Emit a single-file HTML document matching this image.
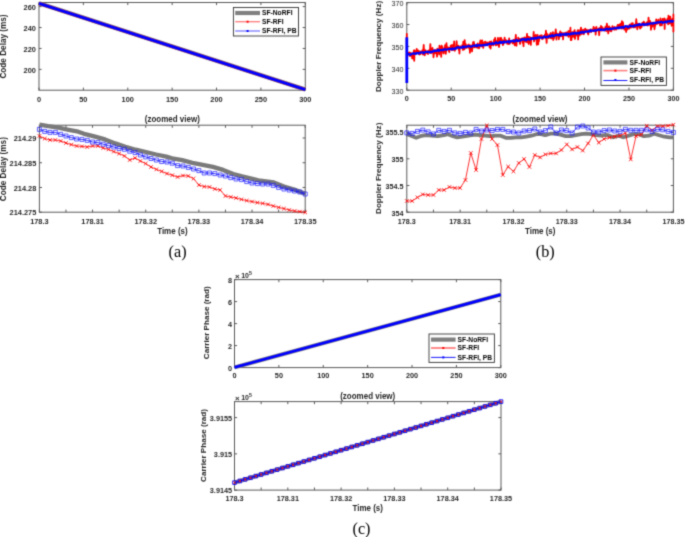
<!DOCTYPE html>
<html><head><meta charset="utf-8"><style>
html,body{margin:0;padding:0;background:#fff;}
svg{display:block;}
</style></head><body>
<svg width="685" height="537" viewBox="0 0 685 537">
<defs><filter id="bl" filterUnits="userSpaceOnUse" x="0" y="0" width="685" height="537" color-interpolation-filters="sRGB"><feConvolveMatrix order="3" kernelMatrix="0.0256 0.1088 0.0256 0.1088 0.4624 0.1088 0.0256 0.1088 0.0256" edgeMode="duplicate"/></filter></defs>
<g filter="url(#bl)">
<rect width="685" height="537" fill="#fff"/>
<rect x="39" y="2.5" width="266.3" height="87.7" fill="none" stroke="#5a5a5a" stroke-width="1"/>
<path d="M39 90.2v-2.6M39 2.5v2.6M83.38 90.2v-2.6M83.38 2.5v2.6M127.77 90.2v-2.6M127.77 2.5v2.6M172.15 90.2v-2.6M172.15 2.5v2.6M216.53 90.2v-2.6M216.53 2.5v2.6M260.92 90.2v-2.6M260.92 2.5v2.6M305.3 90.2v-2.6M305.3 2.5v2.6" stroke="#5a5a5a" stroke-width="1" fill="none"/>
<text font-size="7.4" text-anchor="middle" font-weight="bold" fill="#262626" font-family='"Liberation Sans", sans-serif' transform="translate(39 101.8) scale(1 1.08)">0</text>
<text font-size="7.4" text-anchor="middle" font-weight="bold" fill="#262626" font-family='"Liberation Sans", sans-serif' transform="translate(83.38 101.8) scale(1 1.08)">50</text>
<text font-size="7.4" text-anchor="middle" font-weight="bold" fill="#262626" font-family='"Liberation Sans", sans-serif' transform="translate(127.77 101.8) scale(1 1.08)">100</text>
<text font-size="7.4" text-anchor="middle" font-weight="bold" fill="#262626" font-family='"Liberation Sans", sans-serif' transform="translate(172.15 101.8) scale(1 1.08)">150</text>
<text font-size="7.4" text-anchor="middle" font-weight="bold" fill="#262626" font-family='"Liberation Sans", sans-serif' transform="translate(216.53 101.8) scale(1 1.08)">200</text>
<text font-size="7.4" text-anchor="middle" font-weight="bold" fill="#262626" font-family='"Liberation Sans", sans-serif' transform="translate(260.92 101.8) scale(1 1.08)">250</text>
<text font-size="7.4" text-anchor="middle" font-weight="bold" fill="#262626" font-family='"Liberation Sans", sans-serif' transform="translate(305.3 101.8) scale(1 1.08)">300</text>
<path d="M39 6.6h2.6M305.3 6.6h-2.6M39 27.53h2.6M305.3 27.53h-2.6M39 48.46h2.6M305.3 48.46h-2.6M39 69.39h2.6M305.3 69.39h-2.6" stroke="#5a5a5a" stroke-width="1" fill="none"/>
<text font-size="7.4" text-anchor="end" font-weight="bold" fill="#262626" font-family='"Liberation Sans", sans-serif' transform="translate(35.9 9.9) scale(1 1.08)">260</text>
<text font-size="7.4" text-anchor="end" font-weight="bold" fill="#262626" font-family='"Liberation Sans", sans-serif' transform="translate(35.9 30.83) scale(1 1.08)">240</text>
<text font-size="7.4" text-anchor="end" font-weight="bold" fill="#262626" font-family='"Liberation Sans", sans-serif' transform="translate(35.9 51.76) scale(1 1.08)">220</text>
<text font-size="7.4" text-anchor="end" font-weight="bold" fill="#262626" font-family='"Liberation Sans", sans-serif' transform="translate(35.9 72.69) scale(1 1.08)">200</text>
<text font-size="8.2" text-anchor="middle" font-weight="bold" fill="#262626" font-family='"Liberation Sans", sans-serif' transform="translate(6.3 46.5) rotate(-90) scale(1 1.08)">Code Delay (ms)</text>
<polyline points="39,3.3 305.3,89.6" fill="none" stroke="#808080" stroke-width="4.2" stroke-linejoin="round"/>
<polyline points="39,3.3 305.3,89.6" fill="none" stroke="#d04040" stroke-width="3.4" stroke-linejoin="round"/>
<polyline points="39,3.3 305.3,89.6" fill="none" stroke="#0000ff" stroke-width="2.8" stroke-linejoin="round"/>
<rect x="233.4" y="7.5" width="65.1" height="28.5" fill="#fff" stroke="#333" stroke-width="0.9"/>
<path d="M235.2 13H260" stroke="#808080" stroke-width="4.2"/>
<path d="M235.2 21.7H260" stroke="#ff7a7a" stroke-width="1.3"/>
<path d="M235.2 31H260" stroke="#7a7aff" stroke-width="1.3"/>
<rect x="246.6" y="20.7" width="2" height="2" fill="#ff0000"/>
<rect x="246.6" y="30" width="2" height="2" fill="#0000ff"/>
<text font-size="6.7" text-anchor="start" font-weight="bold" fill="#000" font-family='"Liberation Sans", sans-serif' transform="translate(262 15.3) scale(1 1.08)">SF-NoRFI</text>
<text font-size="6.7" text-anchor="start" font-weight="bold" fill="#000" font-family='"Liberation Sans", sans-serif' transform="translate(262 24) scale(1 1.08)">SF-RFI</text>
<text font-size="6.7" text-anchor="start" font-weight="bold" fill="#000" font-family='"Liberation Sans", sans-serif' transform="translate(262 33.3) scale(1 1.08)">SF-RFI, PB</text>
<rect x="39.4" y="125.2" width="265.8" height="87" fill="none" stroke="#5a5a5a" stroke-width="1"/>
<path d="M39.4 212.2v-2.6M39.4 125.2v2.6M65.98 212.2v-2.6M65.98 125.2v2.6M92.56 212.2v-2.6M92.56 125.2v2.6M119.14 212.2v-2.6M119.14 125.2v2.6M145.72 212.2v-2.6M145.72 125.2v2.6M172.3 212.2v-2.6M172.3 125.2v2.6M198.88 212.2v-2.6M198.88 125.2v2.6M225.46 212.2v-2.6M225.46 125.2v2.6M252.04 212.2v-2.6M252.04 125.2v2.6M278.62 212.2v-2.6M278.62 125.2v2.6M305.2 212.2v-2.6M305.2 125.2v2.6" stroke="#5a5a5a" stroke-width="1" fill="none"/>
<text font-size="7.4" text-anchor="middle" font-weight="bold" fill="#262626" font-family='"Liberation Sans", sans-serif' transform="translate(39.4 223.8) scale(1 1.08)">178.3</text>
<text font-size="7.4" text-anchor="middle" font-weight="bold" fill="#262626" font-family='"Liberation Sans", sans-serif' transform="translate(92.56 223.8) scale(1 1.08)">178.31</text>
<text font-size="7.4" text-anchor="middle" font-weight="bold" fill="#262626" font-family='"Liberation Sans", sans-serif' transform="translate(145.72 223.8) scale(1 1.08)">178.32</text>
<text font-size="7.4" text-anchor="middle" font-weight="bold" fill="#262626" font-family='"Liberation Sans", sans-serif' transform="translate(198.88 223.8) scale(1 1.08)">178.33</text>
<text font-size="7.4" text-anchor="middle" font-weight="bold" fill="#262626" font-family='"Liberation Sans", sans-serif' transform="translate(252.04 223.8) scale(1 1.08)">178.34</text>
<text font-size="7.4" text-anchor="middle" font-weight="bold" fill="#262626" font-family='"Liberation Sans", sans-serif' transform="translate(305.2 223.8) scale(1 1.08)">178.35</text>
<path d="M39.4 138h2.6M305.2 138h-2.6M39.4 162.73h2.6M305.2 162.73h-2.6M39.4 187.46h2.6M305.2 187.46h-2.6M39.4 212.19h2.6M305.2 212.19h-2.6" stroke="#5a5a5a" stroke-width="1" fill="none"/>
<text font-size="7.4" text-anchor="end" font-weight="bold" fill="#262626" font-family='"Liberation Sans", sans-serif' transform="translate(36.3 141.3) scale(1 1.08)">214.29</text>
<text font-size="7.4" text-anchor="end" font-weight="bold" fill="#262626" font-family='"Liberation Sans", sans-serif' transform="translate(36.3 166.03) scale(1 1.08)">214.285</text>
<text font-size="7.4" text-anchor="end" font-weight="bold" fill="#262626" font-family='"Liberation Sans", sans-serif' transform="translate(36.3 190.76) scale(1 1.08)">214.28</text>
<text font-size="7.4" text-anchor="end" font-weight="bold" fill="#262626" font-family='"Liberation Sans", sans-serif' transform="translate(36.3 215.49) scale(1 1.08)">214.275</text>
<text font-size="8.2" text-anchor="middle" font-weight="bold" fill="#262626" font-family='"Liberation Sans", sans-serif' transform="translate(5.7 169.2) rotate(-90) scale(1 1.08)">Code Delay (ms)</text>
<text font-size="8" text-anchor="middle" font-weight="bold" fill="#262626" font-family='"Liberation Sans", sans-serif' transform="translate(172.3 122.2) scale(1 1.1)">(zoomed view)</text>
<text font-size="8" text-anchor="middle" font-weight="bold" fill="#262626" font-family='"Liberation Sans", sans-serif' transform="translate(172.4 233.6) scale(1 1.12)">Time (s)</text>
<text font-size="16.2" text-anchor="middle" font-weight="normal" fill="#000" font-family='"Liberation Serif", serif' transform="translate(177.6 257.4)">(a)</text>
<clipPath id="ca"><rect x="36.4" y="122.2" width="271.8" height="92.99999999999999"/></clipPath>
<g>
<polyline points="39.4,124.6 48.2,126.2 58.4,127.7 68.7,129.8 76.8,131.3 84,133.8 94.2,136.4 105,139.4 115.2,143.4 125.4,146.7 135.7,149.7 145.9,152 156.1,154.5 166.3,156.6 172,158.3 182.2,160.2 192.4,162.8 202.7,164.8 212.9,166.9 223.1,169.9 233.3,174 242,176.4 258.4,180.3 273.8,182.4 284,186.5 294.2,189.5 305.2,193.8" fill="none" stroke="#7a7a7a" stroke-width="4.3" stroke-linejoin="round"/>
<polyline points="39.4,136 44.72,138.6 50.03,140 55.35,140 60.66,141 65.98,143 71.3,144.6 76.61,146 81.93,146.4 87.24,147 92.56,146 97.88,146 103.19,148 108.51,149.4 113.82,151.6 119.14,153.6 124.46,156 129.77,160 135.09,158 140.4,161 145.72,163.6 151.04,167 156.35,169.4 161.67,171.4 166.98,173.6 172.3,175.2 177.62,177 182.93,175.6 188.25,176 193.56,178.6 198.88,185 204.2,186.6 209.51,187 214.83,189 220.14,190 225.46,196 230.78,197 236.09,198 241.41,199.4 246.72,200.6 252.04,201.6 257.36,202.6 262.67,203.4 267.99,204.4 273.3,206 278.62,207.4 283.94,208.6 289.25,210 294.57,211 299.88,211.6 305.2,212.4" fill="none" stroke="#ff0000" stroke-width="0.8" stroke-linejoin="round"/>
<path d="M37.6 134.2l3.6 3.6M37.6 137.8l3.6 -3.6M42.92 136.8l3.6 3.6M42.92 140.4l3.6 -3.6M48.23 138.2l3.6 3.6M48.23 141.8l3.6 -3.6M53.55 138.2l3.6 3.6M53.55 141.8l3.6 -3.6M58.86 139.2l3.6 3.6M58.86 142.8l3.6 -3.6M64.18 141.2l3.6 3.6M64.18 144.8l3.6 -3.6M69.5 142.8l3.6 3.6M69.5 146.4l3.6 -3.6M74.81 144.2l3.6 3.6M74.81 147.8l3.6 -3.6M80.13 144.6l3.6 3.6M80.13 148.2l3.6 -3.6M85.44 145.2l3.6 3.6M85.44 148.8l3.6 -3.6M90.76 144.2l3.6 3.6M90.76 147.8l3.6 -3.6M96.08 144.2l3.6 3.6M96.08 147.8l3.6 -3.6M101.39 146.2l3.6 3.6M101.39 149.8l3.6 -3.6M106.71 147.6l3.6 3.6M106.71 151.2l3.6 -3.6M112.02 149.8l3.6 3.6M112.02 153.4l3.6 -3.6M117.34 151.8l3.6 3.6M117.34 155.4l3.6 -3.6M122.66 154.2l3.6 3.6M122.66 157.8l3.6 -3.6M127.97 158.2l3.6 3.6M127.97 161.8l3.6 -3.6M133.29 156.2l3.6 3.6M133.29 159.8l3.6 -3.6M138.6 159.2l3.6 3.6M138.6 162.8l3.6 -3.6M143.92 161.8l3.6 3.6M143.92 165.4l3.6 -3.6M149.24 165.2l3.6 3.6M149.24 168.8l3.6 -3.6M154.55 167.6l3.6 3.6M154.55 171.2l3.6 -3.6M159.87 169.6l3.6 3.6M159.87 173.2l3.6 -3.6M165.18 171.8l3.6 3.6M165.18 175.4l3.6 -3.6M170.5 173.4l3.6 3.6M170.5 177l3.6 -3.6M175.82 175.2l3.6 3.6M175.82 178.8l3.6 -3.6M181.13 173.8l3.6 3.6M181.13 177.4l3.6 -3.6M186.45 174.2l3.6 3.6M186.45 177.8l3.6 -3.6M191.76 176.8l3.6 3.6M191.76 180.4l3.6 -3.6M197.08 183.2l3.6 3.6M197.08 186.8l3.6 -3.6M202.4 184.8l3.6 3.6M202.4 188.4l3.6 -3.6M207.71 185.2l3.6 3.6M207.71 188.8l3.6 -3.6M213.03 187.2l3.6 3.6M213.03 190.8l3.6 -3.6M218.34 188.2l3.6 3.6M218.34 191.8l3.6 -3.6M223.66 194.2l3.6 3.6M223.66 197.8l3.6 -3.6M228.98 195.2l3.6 3.6M228.98 198.8l3.6 -3.6M234.29 196.2l3.6 3.6M234.29 199.8l3.6 -3.6M239.61 197.6l3.6 3.6M239.61 201.2l3.6 -3.6M244.92 198.8l3.6 3.6M244.92 202.4l3.6 -3.6M250.24 199.8l3.6 3.6M250.24 203.4l3.6 -3.6M255.56 200.8l3.6 3.6M255.56 204.4l3.6 -3.6M260.87 201.6l3.6 3.6M260.87 205.2l3.6 -3.6M266.19 202.6l3.6 3.6M266.19 206.2l3.6 -3.6M271.5 204.2l3.6 3.6M271.5 207.8l3.6 -3.6M276.82 205.6l3.6 3.6M276.82 209.2l3.6 -3.6M282.14 206.8l3.6 3.6M282.14 210.4l3.6 -3.6M287.45 208.2l3.6 3.6M287.45 211.8l3.6 -3.6M292.77 209.2l3.6 3.6M292.77 212.8l3.6 -3.6M298.08 209.8l3.6 3.6M298.08 213.4l3.6 -3.6M303.4 210.6l3.6 3.6M303.4 214.2l3.6 -3.6" fill="none" stroke="#ff0000" stroke-width="0.85"/>
<polyline points="39.4,129.4 44.72,131.4 50.03,132.4 55.35,132.4 60.66,134.4 65.98,136 71.3,137.6 76.61,139 81.93,139.4 87.24,140.4 92.56,142 97.88,142.6 103.19,144.2 108.51,145.6 113.82,147 119.14,148.5 124.46,149.3 129.77,151.2 135.09,152.6 140.4,155 145.72,156.9 151.04,158.5 156.35,160 161.67,161.5 166.98,162 172.3,163.2 177.62,165.6 182.93,166 188.25,167.4 193.56,169 198.88,170.6 204.2,173 209.51,173 214.83,173.6 220.14,175 225.46,176 230.78,177.6 236.09,179 241.41,179.6 246.72,181.6 252.04,183 257.36,183.6 262.67,184 267.99,184 273.3,185.4 278.62,187.4 283.94,189 289.25,190 294.57,191 299.88,192 305.2,194" fill="none" stroke="#0000ff" stroke-width="0.8" stroke-linejoin="round"/>
<path d="M37.4 127.4h4v4h-4zM42.72 129.4h4v4h-4zM48.03 130.4h4v4h-4zM53.35 130.4h4v4h-4zM58.66 132.4h4v4h-4zM63.98 134h4v4h-4zM69.3 135.6h4v4h-4zM74.61 137h4v4h-4zM79.93 137.4h4v4h-4zM85.24 138.4h4v4h-4zM90.56 140h4v4h-4zM95.88 140.6h4v4h-4zM101.19 142.2h4v4h-4zM106.51 143.6h4v4h-4zM111.82 145h4v4h-4zM117.14 146.5h4v4h-4zM122.46 147.3h4v4h-4zM127.77 149.2h4v4h-4zM133.09 150.6h4v4h-4zM138.4 153h4v4h-4zM143.72 154.9h4v4h-4zM149.04 156.5h4v4h-4zM154.35 158h4v4h-4zM159.67 159.5h4v4h-4zM164.98 160h4v4h-4zM170.3 161.2h4v4h-4zM175.62 163.6h4v4h-4zM180.93 164h4v4h-4zM186.25 165.4h4v4h-4zM191.56 167h4v4h-4zM196.88 168.6h4v4h-4zM202.2 171h4v4h-4zM207.51 171h4v4h-4zM212.83 171.6h4v4h-4zM218.14 173h4v4h-4zM223.46 174h4v4h-4zM228.78 175.6h4v4h-4zM234.09 177h4v4h-4zM239.41 177.6h4v4h-4zM244.72 179.6h4v4h-4zM250.04 181h4v4h-4zM255.36 181.6h4v4h-4zM260.67 182h4v4h-4zM265.99 182h4v4h-4zM271.3 183.4h4v4h-4zM276.62 185.4h4v4h-4zM281.94 187h4v4h-4zM287.25 188h4v4h-4zM292.57 189h4v4h-4zM297.88 190h4v4h-4zM303.2 192h4v4h-4z" fill="none" stroke="#1a1aff" stroke-width="0.7"/>
</g>
<rect x="406.8" y="2.6" width="266.6" height="87.6" fill="none" stroke="#5a5a5a" stroke-width="1"/>
<path d="M406.8 90.2v-2.6M406.8 2.6v2.6M451.23 90.2v-2.6M451.23 2.6v2.6M495.67 90.2v-2.6M495.67 2.6v2.6M540.1 90.2v-2.6M540.1 2.6v2.6M584.53 90.2v-2.6M584.53 2.6v2.6M628.97 90.2v-2.6M628.97 2.6v2.6M673.4 90.2v-2.6M673.4 2.6v2.6" stroke="#5a5a5a" stroke-width="1" fill="none"/>
<text font-size="7.2" text-anchor="middle" font-weight="bold" fill="#262626" font-family='"Liberation Sans", sans-serif' transform="translate(406.8 101.4) scale(1 0.97)">0</text>
<text font-size="7.2" text-anchor="middle" font-weight="bold" fill="#262626" font-family='"Liberation Sans", sans-serif' transform="translate(451.23 101.4) scale(1 0.97)">50</text>
<text font-size="7.2" text-anchor="middle" font-weight="bold" fill="#262626" font-family='"Liberation Sans", sans-serif' transform="translate(495.67 101.4) scale(1 0.97)">100</text>
<text font-size="7.2" text-anchor="middle" font-weight="bold" fill="#262626" font-family='"Liberation Sans", sans-serif' transform="translate(540.1 101.4) scale(1 0.97)">150</text>
<text font-size="7.2" text-anchor="middle" font-weight="bold" fill="#262626" font-family='"Liberation Sans", sans-serif' transform="translate(584.53 101.4) scale(1 0.97)">200</text>
<text font-size="7.2" text-anchor="middle" font-weight="bold" fill="#262626" font-family='"Liberation Sans", sans-serif' transform="translate(628.97 101.4) scale(1 0.97)">250</text>
<text font-size="7.2" text-anchor="middle" font-weight="bold" fill="#262626" font-family='"Liberation Sans", sans-serif' transform="translate(673.4 101.4) scale(1 0.97)">300</text>
<path d="M406.8 2.6h2.6M673.4 2.6h-2.6M406.8 24.5h2.6M673.4 24.5h-2.6M406.8 46.4h2.6M673.4 46.4h-2.6M406.8 68.3h2.6M673.4 68.3h-2.6M406.8 90.2h2.6M673.4 90.2h-2.6" stroke="#5a5a5a" stroke-width="1" fill="none"/>
<text font-size="7.2" text-anchor="end" font-weight="normal" fill="#262626" font-family='"Liberation Sans", sans-serif' transform="translate(403.5 5.9) scale(1 0.97)">370</text>
<text font-size="7.2" text-anchor="end" font-weight="normal" fill="#262626" font-family='"Liberation Sans", sans-serif' transform="translate(403.5 27.8) scale(1 0.97)">360</text>
<text font-size="7.2" text-anchor="end" font-weight="normal" fill="#262626" font-family='"Liberation Sans", sans-serif' transform="translate(403.5 49.7) scale(1 0.97)">350</text>
<text font-size="7.2" text-anchor="end" font-weight="normal" fill="#262626" font-family='"Liberation Sans", sans-serif' transform="translate(403.5 71.6) scale(1 0.97)">340</text>
<text font-size="7.2" text-anchor="end" font-weight="normal" fill="#262626" font-family='"Liberation Sans", sans-serif' transform="translate(403.5 93.5) scale(1 0.97)">330</text>
<text font-size="8.1" text-anchor="middle" font-weight="bold" fill="#262626" font-family='"Liberation Sans", sans-serif' transform="translate(381.2 46.5) rotate(-90) scale(1 0.97)">Doppler Frequency (Hz)</text>
<polyline points="406.8,33.2 406.8,60 407.6,54.3 407.95,54.75 408.3,53.76 408.65,52.7 409,53.37 409.35,52.44 409.7,54.13 410.05,56.2 410.4,53.13 410.75,52.88 411.1,54.66 411.45,54.4 411.8,53.94 412.15,58.45 412.5,53.63 412.85,54.78 413.2,58.67 413.55,52.79 413.9,50.36 414.25,60.76 414.6,50.37 414.95,52.98 415.3,51.23 415.65,53.72 416,53.49 416.35,52.88 416.71,48.99 417.06,52.21 417.41,52.98 417.76,53.2 418.11,50.44 418.46,52.13 418.81,51.26 419.16,51.5 419.51,54.54 419.86,51.41 420.21,52.65 420.56,54.12 420.91,51.65 421.26,52.38 421.61,52.7 421.96,52.58 422.31,50.41 422.66,52.52 423.01,54.59 423.36,49.75 423.71,45.02 424.06,52.41 424.41,51.11 424.76,55.42 425.11,53.34 425.46,50.06 425.81,52.11 426.16,52.9 426.51,51.59 426.86,52.98 427.21,51.7 427.56,52.87 427.91,54.1 428.26,50.56 428.61,51.97 428.96,50.83 429.31,51.76 429.66,49.54 430.01,50.5 430.36,44.06 430.71,52.85 431.06,53.21 431.41,49.1 431.76,49.92 432.11,52.26 432.46,47.86 432.81,50.34 433.16,50.9 433.51,57.3 433.86,52.11 434.22,50.38 434.57,50.27 434.92,50.42 435.27,53.3 435.62,50.04 435.97,50.2 436.32,51.24 436.67,50.41 437.02,56.62 437.37,48.69 437.72,50.46 438.07,49.7 438.42,52.32 438.77,51.42 439.12,54.52 439.47,45.58 439.82,49.65 440.17,47.16 440.52,50.12 440.87,51.04 441.22,56.78 441.57,45.75 441.92,47.16 442.27,46.54 442.62,49.36 442.97,48.33 443.32,53.13 443.67,53.43 444.02,48.31 444.37,48.61 444.72,49.93 445.07,45.13 445.42,49.21 445.77,53.91 446.12,50.57 446.47,43.11 446.82,47.62 447.17,49.15 447.52,49.3 447.87,47.45 448.22,49.58 448.57,47.69 448.92,50.66 449.27,52.04 449.62,49.12 449.97,47.95 450.32,48.69 450.67,45.54 451.02,46.93 451.37,49.35 451.72,45.19 452.08,50.06 452.43,45.73 452.78,49.82 453.13,47.13 453.48,44.45 453.83,48.65 454.18,41.36 454.53,50.41 454.88,50.68 455.23,48.15 455.58,47.76 455.93,47.91 456.28,46.52 456.63,41.24 456.98,47.14 457.33,47.91 457.68,46.64 458.03,46.87 458.38,45.75 458.73,49.89 459.08,47.52 459.43,53.56 459.78,47.71 460.13,46.49 460.48,47.06 460.83,46.63 461.18,47.52 461.53,46.84 461.88,46.92 462.23,45.1 462.58,46 462.93,50.01 463.28,41.72 463.63,43.19 463.98,47.71 464.33,49.43 464.68,40.12 465.03,46.67 465.38,45.93 465.73,44.02 466.08,48.1 466.43,46.8 466.78,46.91 467.13,45.51 467.48,47.46 467.83,45.77 468.18,46.38 468.53,44.74 468.88,44.52 469.23,48.69 469.58,45.6 469.94,52.82 470.29,46.3 470.64,45.58 470.99,45.42 471.34,47.26 471.69,45.68 472.04,51.44 472.39,46.12 472.74,47.98 473.09,42.27 473.44,46.58 473.79,41.94 474.14,43.58 474.49,47.39 474.84,47.37 475.19,45.5 475.54,46.58 475.89,46.93 476.24,46.97 476.59,47.07 476.94,44.76 477.29,47.96 477.64,43.36 477.99,46.8 478.34,46.15 478.69,46.73 479.04,48.34 479.39,47.65 479.74,43.26 480.09,42.32 480.44,40.36 480.79,43.34 481.14,44.95 481.49,46.32 481.84,42.17 482.19,40.35 482.54,45.23 482.89,44.83 483.24,47.98 483.59,44.73 483.94,43.2 484.29,42.08 484.64,44.26 484.99,42.88 485.34,41.73 485.69,45.23 486.04,44.25 486.39,44.98 486.74,42.63 487.09,43.13 487.45,42.53 487.8,42.67 488.15,44.41 488.5,42.75 488.85,44.59 489.2,44.51 489.55,47.25 489.9,41.57 490.25,45.29 490.6,48.6 490.95,43.71 491.3,41.3 491.65,42.88 492,44.82 492.35,43.42 492.7,43.64 493.05,42.99 493.4,45.33 493.75,43.34 494.1,39.7 494.45,42.15 494.8,39.99 495.15,37.83 495.5,42.28 495.85,45.31 496.2,43.14 496.55,41.09 496.9,41.42 497.25,44.8 497.6,43.15 497.95,37.82 498.3,42.71 498.65,42.82 499,47 499.35,43.58 499.7,42.98 500.05,37.85 500.4,43.38 500.75,41.36 501.1,37.95 501.45,40.3 501.8,42.13 502.15,42.3 502.5,40.08 502.85,45.06 503.2,44.59 503.55,41.37 503.9,43.36 504.25,42.67 504.6,37.69 504.95,42.37 505.31,41.81 505.66,42 506.01,40.05 506.36,41.33 506.71,41.44 507.06,43.65 507.41,42.2 507.76,41.59 508.11,44.08 508.46,40.6 508.81,40.82 509.16,38.43 509.51,43.97 509.86,42.93 510.21,42.8 510.56,42.35 510.91,41.38 511.26,41.51 511.61,40.7 511.96,40.73 512.31,41.11 512.66,43.47 513.01,41.85 513.36,40.79 513.71,39.89 514.06,39.75 514.41,43.4 514.76,45.41 515.11,40.78 515.46,40.05 515.81,34.79 516.16,40.42 516.51,45.73 516.86,39.8 517.21,40.03 517.56,39.99 517.91,40.49 518.26,37.64 518.61,39.84 518.96,38.77 519.31,41.59 519.66,38.82 520.01,43.94 520.36,42.52 520.71,39.44 521.06,38.92 521.41,40.18 521.76,39.82 522.11,38.14 522.46,40.5 522.82,43.02 523.17,39.22 523.52,46.18 523.87,37.83 524.22,40.04 524.57,37.41 524.92,37.6 525.27,41.49 525.62,37.84 525.97,41.08 526.32,41.76 526.67,39.63 527.02,33.85 527.37,42.34 527.72,38.75 528.07,38.05 528.42,36.75 528.77,44 529.12,41.33 529.47,40.43 529.82,37.25 530.17,37.35 530.52,37.88 530.87,44.88 531.22,38.29 531.57,38.94 531.92,39.03 532.27,38 532.62,38.38 532.97,38.74 533.32,38.22 533.67,31.93 534.02,41.36 534.37,39.2 534.72,38.27 535.07,35.36 535.42,38.73 535.77,34.84 536.12,35.68 536.47,39.37 536.82,44.74 537.17,37.62 537.52,35.01 537.87,37.17 538.22,44.39 538.57,38.74 538.92,41.37 539.27,37.96 539.62,36.27 539.97,35.58 540.32,37.38 540.68,37.14 541.03,35.48 541.38,37.53 541.73,35.39 542.08,39.08 542.43,38.96 542.78,38.95 543.13,36.33 543.48,37.92 543.83,36.81 544.18,36.34 544.53,36.38 544.88,34.75 545.23,34.47 545.58,38.12 545.93,30.75 546.28,37.07 546.63,42.92 546.98,33.77 547.33,35.29 547.68,36.83 548.03,37.14 548.38,35.83 548.73,38.1 549.08,36.71 549.43,34.32 549.78,34.74 550.13,37.56 550.48,36.95 550.83,33.01 551.18,38.32 551.53,37.04 551.88,38.22 552.23,35.33 552.58,35.43 552.93,32.17 553.28,40.01 553.63,35.49 553.98,38.36 554.33,34.63 554.68,35.92 555.03,32.85 555.38,34.93 555.73,29.37 556.08,33.41 556.43,39.57 556.78,35.94 557.13,33.62 557.48,34.47 557.83,34.49 558.18,35.13 558.54,34.28 558.89,39.28 559.24,34.57 559.59,33.34 559.94,32.86 560.29,31.4 560.64,36.35 560.99,32.33 561.34,34.81 561.69,33.69 562.04,33.11 562.39,36.08 562.74,33.77 563.09,39.37 563.44,33.25 563.79,35.13 564.14,34.08 564.49,33.16 564.84,35.33 565.19,34.06 565.54,35.27 565.89,34.15 566.24,32.39 566.59,33.97 566.94,34.18 567.29,35.63 567.64,32.51 567.99,33.9 568.34,31.08 568.69,36.96 569.04,32.05 569.39,30.81 569.74,33.64 570.09,35.52 570.44,27.7 570.79,39.98 571.14,32.34 571.49,40.01 571.84,34.1 572.19,32.1 572.54,32.2 572.89,34.3 573.24,36.88 573.59,33.97 573.94,31.61 574.29,31.16 574.64,30.09 574.99,38.96 575.34,32.5 575.69,33.39 576.05,32.89 576.4,33.16 576.75,32.94 577.1,35.96 577.45,31.05 577.8,30.15 578.15,39.45 578.5,30.43 578.85,33.82 579.2,35.71 579.55,30.91 579.9,30.16 580.25,31.82 580.6,34.66 580.95,27.67 581.3,33.15 581.65,30.46 582,33.9 582.35,30.37 582.7,31.63 583.05,29.57 583.4,30.4 583.75,34.25 584.1,33.28 584.45,31.21 584.8,30.4 585.15,28.66 585.5,31.09 585.85,31.65 586.2,31.52 586.55,31.46 586.9,29.72 587.25,31.41 587.6,31.41 587.95,33.56 588.3,34.47 588.65,31.12 589,30.04 589.35,31.15 589.7,30.21 590.05,29.94 590.4,31.03 590.75,29.36 591.1,32.03 591.45,30.82 591.8,31.36 592.15,30.6 592.5,29.66 592.85,29.25 593.2,30.38 593.55,26.85 593.91,31.06 594.26,30.63 594.61,28.34 594.96,30.66 595.31,28.29 595.66,34.66 596.01,29.93 596.36,26.94 596.71,30.47 597.06,30.53 597.41,29.97 597.76,29.49 598.11,29.53 598.46,28.49 598.81,29.61 599.16,35.09 599.51,30.12 599.86,27.94 600.21,30.27 600.56,30.07 600.91,26.02 601.26,29.02 601.61,30.61 601.96,26.91 602.31,30.37 602.66,29.97 603.01,29.99 603.36,30.11 603.71,28.36 604.06,28.96 604.41,30.4 604.76,30.01 605.11,29.6 605.46,26.71 605.81,30.06 606.16,31.05 606.51,30.75 606.86,23.61 607.21,26.42 607.56,30.5 607.91,28.66 608.26,33.41 608.61,29.44 608.96,26.31 609.31,26.59 609.66,27.63 610.01,30.74 610.36,27.98 610.71,28.99 611.06,31.39 611.42,31.09 611.77,28.24 612.12,27.97 612.47,26.24 612.82,27.14 613.17,28.94 613.52,28.85 613.87,28.33 614.22,29.74 614.57,26.78 614.92,27.92 615.27,29.18 615.62,28.89 615.97,29.65 616.32,28.49 616.67,27.28 617.02,28.35 617.37,26.05 617.72,24.95 618.07,28.57 618.42,27.48 618.77,28.04 619.12,24.68 619.47,26.83 619.82,26.4 620.17,25.92 620.52,23.58 620.87,26.71 621.22,28.7 621.57,27.8 621.92,21.18 622.27,27.06 622.62,28.29 622.97,22.44 623.32,26.74 623.67,27.8 624.02,27.99 624.37,29.62 624.72,28.64 625.07,27.24 625.42,27.18 625.77,27.94 626.12,31.98 626.47,26.48 626.82,28 627.17,29.69 627.52,26.15 627.87,26.29 628.22,26.65 628.57,28.5 628.92,26.19 629.28,28.62 629.63,24.55 629.98,25.8 630.33,25.73 630.68,27.31 631.03,27.7 631.38,23.44 631.73,24.37 632.08,26.39 632.43,24.71 632.78,23.24 633.13,27.42 633.48,26.48 633.83,26.43 634.18,24.79 634.53,27.23 634.88,25.09 635.23,27.25 635.58,23.89 635.93,23.94 636.28,19.22 636.63,24.1 636.98,26.33 637.33,29.28 637.68,23.61 638.03,25.2 638.38,24.46 638.73,26.51 639.08,23.91 639.43,24.18 639.78,26.86 640.13,28.51 640.48,28.07 640.83,24.83 641.18,25.05 641.53,27.17 641.88,24.39 642.23,22.94 642.58,24.7 642.93,25.21 643.28,23.05 643.63,21.66 643.98,21.96 644.33,25.38 644.68,22.99 645.03,23.96 645.38,24.5 645.73,25.13 646.08,23.51 646.43,24.84 646.78,22.51 647.14,23.33 647.49,22.2 647.84,25.71 648.19,23.75 648.54,17.57 648.89,23.13 649.24,23.3 649.59,24.77 649.94,20.94 650.29,21.82 650.64,22.86 650.99,29.75 651.34,24.97 651.69,23.17 652.04,24.48 652.39,26.66 652.74,22.83 653.09,22.57 653.44,25.13 653.79,23.9 654.14,24.15 654.49,29.25 654.84,26.13 655.19,25.73 655.54,23.8 655.89,23.95 656.24,19.43 656.59,23.78 656.94,22.37 657.29,23.36 657.64,23.72 657.99,21.99 658.34,19.72 658.69,23.07 659.04,21.2 659.39,21.83 659.74,21.33 660.09,25.6 660.44,18.43 660.79,24.21 661.14,22.57 661.49,23.94 661.84,25.33 662.19,22.06 662.54,19 662.89,20.46 663.24,19.9 663.59,21.02 663.94,21.93 664.29,18.45 664.65,28.97 665,19.17 665.35,22.11 665.7,21.4 666.05,21.01 666.4,21.37 666.75,20.55 667.1,20.39 667.45,18.58 667.8,21.26 668.15,24.31 668.5,15.63 668.85,23.36 669.2,22.3 669.55,19.97 669.9,23.42 670.25,16.77 670.6,20.84 670.95,20.43 671.3,21.02 671.65,25.78 672,20.64 672.35,18.94 672.7,20.07 673.05,24.41 673.4,20.49 673.4,14.5 673.4,31.5 673.4,21" fill="none" stroke="#ff0000" stroke-width="1.8" stroke-linejoin="round"/>
<path d="M406.8 37.3V83" stroke="#0000ff" stroke-width="2.8"/>
<polyline points="406.8,54.66 407.69,54.67 408.58,54.04 409.47,54.32 410.37,54.9 411.26,54.18 412.15,53.62 413.04,53.77 413.93,53.27 414.82,53.7 415.72,53.86 416.61,52.97 417.5,53.14 418.39,53.63 419.28,52.78 420.17,52.98 421.07,52.31 421.96,52.29 422.85,52.32 423.74,53.42 424.63,52.14 425.52,51.97 426.42,51.84 427.31,51.91 428.2,52.17 429.09,51.84 429.98,52.57 430.87,51.63 431.77,52.07 432.66,51.43 433.55,51.46 434.44,50.43 435.33,50.9 436.22,50.82 437.12,50.62 438.01,49.65 438.9,50.9 439.79,50.22 440.68,50.08 441.57,50.05 442.47,49.95 443.36,50.12 444.25,49.25 445.14,49.29 446.03,49.73 446.92,49.55 447.82,49.2 448.71,49 449.6,48.77 450.49,49 451.38,49.45 452.27,48.32 453.17,49.37 454.06,48.95 454.95,48.26 455.84,48.7 456.73,47.57 457.62,47.34 458.52,47.42 459.41,47.71 460.3,47.63 461.19,47.43 462.08,47.59 462.97,46.48 463.86,47.55 464.76,46.57 465.65,46.8 466.54,46.8 467.43,46.35 468.32,46.14 469.21,46.19 470.11,46.52 471,46.68 471.89,46.55 472.78,45.74 473.67,45.72 474.56,45.54 475.46,46.05 476.35,44.81 477.24,46.17 478.13,45.28 479.02,45.04 479.91,45.43 480.81,45.63 481.7,45.2 482.59,45.41 483.48,44.88 484.37,45.26 485.26,45.15 486.16,44.43 487.05,45.01 487.94,44.33 488.83,44.18 489.72,43.61 490.61,43.78 491.51,44.15 492.4,43.09 493.29,43.86 494.18,43.61 495.07,43.47 495.96,42.24 496.86,43.07 497.75,43.29 498.64,42.54 499.53,42.81 500.42,41.59 501.31,42.85 502.21,42.13 503.1,42.71 503.99,41.38 504.88,42.4 505.77,41.87 506.66,42.23 507.56,41.33 508.45,41.36 509.34,42.53 510.23,41.04 511.12,40.98 512.01,41.06 512.91,40.61 513.8,41.49 514.69,41.62 515.58,40.41 516.47,39.84 517.36,41.03 518.25,40.88 519.15,40.64 520.04,40.68 520.93,39.65 521.82,39.86 522.71,39.19 523.6,39.07 524.5,40.03 525.39,39.17 526.28,40.39 527.17,39.28 528.06,38.85 528.95,39.38 529.85,39.72 530.74,39.01 531.63,38.13 532.52,38.73 533.41,39.07 534.3,38.12 535.2,37.88 536.09,38.57 536.98,38.06 537.87,37.39 538.76,37.6 539.65,37.32 540.55,37.68 541.44,37.48 542.33,37.83 543.22,37.52 544.11,36.38 545,37.16 545.9,37.26 546.79,36.95 547.68,37.1 548.57,36.27 549.46,35.98 550.35,36.71 551.25,35.7 552.14,35.09 553.03,36.41 553.92,35.51 554.81,35.59 555.7,34.98 556.6,34.9 557.49,34.86 558.38,35.11 559.27,35.32 560.16,34.01 561.05,35.27 561.95,34.28 562.84,34.22 563.73,34.89 564.62,34.44 565.51,33.67 566.4,35.08 567.29,33.74 568.19,34.13 569.08,33.99 569.97,34.43 570.86,33.47 571.75,34.02 572.64,33.12 573.54,33.84 574.43,32.88 575.32,32.95 576.21,33.85 577.1,33.02 577.99,32.82 578.89,33.66 579.78,32.7 580.67,32.06 581.56,32.64 582.45,31.67 583.34,32.59 584.24,32.51 585.13,31.6 586.02,31.46 586.91,31.71 587.8,31.52 588.69,30.96 589.59,31.54 590.48,30.26 591.37,30.87 592.26,30.77 593.15,30.71 594.04,30.86 594.94,30.05 595.83,30.76 596.72,30.3 597.61,29.97 598.5,29.54 599.39,29.51 600.29,30.09 601.18,29.38 602.07,29.73 602.96,30.06 603.85,29.93 604.74,30.06 605.64,29.11 606.53,28.64 607.42,29.47 608.31,29.04 609.2,29.29 610.09,28.68 610.99,29.1 611.88,28.83 612.77,28.65 613.66,28.45 614.55,28.28 615.44,28.1 616.34,27.98 617.23,28.21 618.12,27.42 619.01,28.32 619.9,27.37 620.79,27.75 621.68,27.15 622.58,26.97 623.47,27.88 624.36,26.71 625.25,26.17 626.14,26.31 627.03,26.37 627.93,27.37 628.82,26.38 629.71,26.59 630.6,25.61 631.49,26.1 632.38,26.13 633.28,26.53 634.17,25.29 635.06,25.76 635.95,25.51 636.84,24.8 637.73,25.14 638.63,24.92 639.52,23.87 640.41,25.08 641.3,24.94 642.19,24.38 643.08,23.86 643.98,25.02 644.87,24.36 645.76,24.58 646.65,24.65 647.54,23.66 648.43,24.15 649.33,23.56 650.22,23.53 651.11,23.4 652,23.33 652.89,23.72 653.78,23.16 654.68,22.92 655.57,22.75 656.46,22.91 657.35,22.24 658.24,22.31 659.13,22.4 660.03,22.05 660.92,22.14 661.81,21.8 662.7,22.87 663.59,22.45 664.48,21.94 665.38,21.6 666.27,22.5 667.16,21.54 668.05,21.24 668.94,21.3 669.83,21.19 670.73,21.58 671.62,20.82 672.51,21.66 673.4,20.2" fill="none" stroke="#0000ff" stroke-width="2.2" stroke-linejoin="round"/>
<rect x="601" y="57" width="65.4" height="28.4" fill="#fff" stroke="#333" stroke-width="0.9"/>
<path d="M603.4 62.4H627.4" stroke="#808080" stroke-width="4.2"/>
<path d="M603.4 70.6H627.4" stroke="#ff8080" stroke-width="1.6"/>
<path d="M603.4 80.5H627.4" stroke="#0000ff" stroke-width="0.9"/>
<rect x="614.4" y="69.6" width="2" height="2" fill="#ff0000"/>
<rect x="614.4" y="79" width="2" height="2" fill="#0000ff"/>
<text font-size="6.7" text-anchor="start" font-weight="bold" fill="#000" font-family='"Liberation Sans", sans-serif' transform="translate(629.6 64.7) scale(1 0.97)">SF-NoRFI</text>
<text font-size="6.7" text-anchor="start" font-weight="bold" fill="#000" font-family='"Liberation Sans", sans-serif' transform="translate(629.6 72.9) scale(1 0.97)">SF-RFI</text>
<text font-size="6.7" text-anchor="start" font-weight="bold" fill="#000" font-family='"Liberation Sans", sans-serif' transform="translate(629.6 82.3) scale(1 0.97)">SF-RFI, PB</text>
<rect x="406.8" y="125.2" width="266.6" height="87" fill="none" stroke="#5a5a5a" stroke-width="1"/>
<path d="M406.8 212.2v-2.6M406.8 125.2v2.6M433.46 212.2v-2.6M433.46 125.2v2.6M460.12 212.2v-2.6M460.12 125.2v2.6M486.78 212.2v-2.6M486.78 125.2v2.6M513.44 212.2v-2.6M513.44 125.2v2.6M540.1 212.2v-2.6M540.1 125.2v2.6M566.76 212.2v-2.6M566.76 125.2v2.6M593.42 212.2v-2.6M593.42 125.2v2.6M620.08 212.2v-2.6M620.08 125.2v2.6M646.74 212.2v-2.6M646.74 125.2v2.6M673.4 212.2v-2.6M673.4 125.2v2.6" stroke="#5a5a5a" stroke-width="1" fill="none"/>
<text font-size="7.2" text-anchor="middle" font-weight="bold" fill="#262626" font-family='"Liberation Sans", sans-serif' transform="translate(406.8 223.8) scale(1 0.97)">178.3</text>
<text font-size="7.2" text-anchor="middle" font-weight="bold" fill="#262626" font-family='"Liberation Sans", sans-serif' transform="translate(460.12 223.8) scale(1 0.97)">178.31</text>
<text font-size="7.2" text-anchor="middle" font-weight="bold" fill="#262626" font-family='"Liberation Sans", sans-serif' transform="translate(513.44 223.8) scale(1 0.97)">178.32</text>
<text font-size="7.2" text-anchor="middle" font-weight="bold" fill="#262626" font-family='"Liberation Sans", sans-serif' transform="translate(566.76 223.8) scale(1 0.97)">178.33</text>
<text font-size="7.2" text-anchor="middle" font-weight="bold" fill="#262626" font-family='"Liberation Sans", sans-serif' transform="translate(620.08 223.8) scale(1 0.97)">178.34</text>
<text font-size="7.2" text-anchor="middle" font-weight="bold" fill="#262626" font-family='"Liberation Sans", sans-serif' transform="translate(673.4 223.8) scale(1 0.97)">178.35</text>
<path d="M406.8 132.1h2.6M673.4 132.1h-2.6M406.8 158.8h2.6M673.4 158.8h-2.6M406.8 185.5h2.6M673.4 185.5h-2.6M406.8 212.2h2.6M673.4 212.2h-2.6" stroke="#5a5a5a" stroke-width="1" fill="none"/>
<text font-size="7.2" text-anchor="end" font-weight="bold" fill="#262626" font-family='"Liberation Sans", sans-serif' transform="translate(403.6 135.4) scale(1 0.97)">355.5</text>
<text font-size="7.2" text-anchor="end" font-weight="bold" fill="#262626" font-family='"Liberation Sans", sans-serif' transform="translate(403.6 162.1) scale(1 0.97)">355</text>
<text font-size="7.2" text-anchor="end" font-weight="bold" fill="#262626" font-family='"Liberation Sans", sans-serif' transform="translate(403.6 188.8) scale(1 0.97)">354.5</text>
<text font-size="7.2" text-anchor="end" font-weight="bold" fill="#262626" font-family='"Liberation Sans", sans-serif' transform="translate(403.6 215.5) scale(1 0.97)">354</text>
<text font-size="8.1" text-anchor="middle" font-weight="bold" fill="#262626" font-family='"Liberation Sans", sans-serif' transform="translate(381.2 168.3) rotate(-90) scale(1 0.97)">Doppler Frequency (Hz)</text>
<text font-size="8" text-anchor="middle" font-weight="bold" fill="#262626" font-family='"Liberation Sans", sans-serif' transform="translate(540 122.2) scale(1 1.1)">(zoomed view)</text>
<text font-size="8" text-anchor="middle" font-weight="bold" fill="#262626" font-family='"Liberation Sans", sans-serif' transform="translate(540.2 233.6) scale(1 1.12)">Time (s)</text>
<text font-size="16.2" text-anchor="middle" font-weight="normal" fill="#000" font-family='"Liberation Serif", serif' transform="translate(545.2 257.4)">(b)</text>
<polyline points="406.8,134.2 411.1,135.7 416.2,137.8 420.3,136.2 425.4,135.2 431.6,135.7 437.7,136.2 443.8,135.2 447.9,134.2 453,136.2 457.1,137.3 462.2,136.7 468.4,135.7 475.1,134.7 480.2,135.2 485.3,135.7 490.4,136.2 495.5,135.7 500.7,135.7 505.8,137.8 510.9,137.8 516,137.3 521.1,137.3 526.2,136.7 531.3,135.7 536.4,134.2 540.1,134 545.2,135.2 550.3,133.7 555.4,133.7 560.5,134.7 565.7,136.2 570.8,136.2 575.9,135.2 581,134.2 586.1,133.7 591.2,134.2 596.3,135.2 601.4,135.7 605,135 608.1,135.2 613.2,137.3 618.3,135.7 623.4,137.3 628.5,135.7 633.7,134.2 638.8,134.2 643.9,136.2 649,135.7 654.1,133.7 659.2,135.2 664.3,136.7 669.4,137.3 673.4,137.3" fill="none" stroke="#7a7a7a" stroke-width="3.8" stroke-linejoin="round"/>
<polyline points="406.8,201 412.13,201 417.46,197.4 422.8,194.4 428.13,195 433.46,195 438.79,190 444.12,190 449.46,187 454.79,188 460.12,188 465.45,180 470.78,153 476.12,170 481.45,139 486.78,125.4 492.11,139 497.44,145 502.78,175 508.11,166.6 513.44,171.4 518.77,163 524.1,159 529.44,167 534.77,155 540.1,157.4 545.43,154.4 550.76,153.4 556.1,153.4 561.43,150 566.76,144.4 572.09,149.4 577.42,147 582.76,150.6 588.09,143.4 593.42,135 598.75,142.6 604.08,139 609.42,137.6 614.75,136.6 620.08,135.6 625.41,133 630.74,159.4 636.08,136 641.41,134.6 646.74,125.7 652.07,130.3 657.4,126.2 662.74,126.2 668.07,125.7 673.4,124.7" fill="none" stroke="#ff0000" stroke-width="0.8" stroke-linejoin="round"/>
<path d="M405 199.2l3.6 3.6M405 202.8l3.6 -3.6M410.33 199.2l3.6 3.6M410.33 202.8l3.6 -3.6M415.66 195.6l3.6 3.6M415.66 199.2l3.6 -3.6M421 192.6l3.6 3.6M421 196.2l3.6 -3.6M426.33 193.2l3.6 3.6M426.33 196.8l3.6 -3.6M431.66 193.2l3.6 3.6M431.66 196.8l3.6 -3.6M436.99 188.2l3.6 3.6M436.99 191.8l3.6 -3.6M442.32 188.2l3.6 3.6M442.32 191.8l3.6 -3.6M447.66 185.2l3.6 3.6M447.66 188.8l3.6 -3.6M452.99 186.2l3.6 3.6M452.99 189.8l3.6 -3.6M458.32 186.2l3.6 3.6M458.32 189.8l3.6 -3.6M463.65 178.2l3.6 3.6M463.65 181.8l3.6 -3.6M468.98 151.2l3.6 3.6M468.98 154.8l3.6 -3.6M474.32 168.2l3.6 3.6M474.32 171.8l3.6 -3.6M479.65 137.2l3.6 3.6M479.65 140.8l3.6 -3.6M484.98 123.6l3.6 3.6M484.98 127.2l3.6 -3.6M490.31 137.2l3.6 3.6M490.31 140.8l3.6 -3.6M495.64 143.2l3.6 3.6M495.64 146.8l3.6 -3.6M500.98 173.2l3.6 3.6M500.98 176.8l3.6 -3.6M506.31 164.8l3.6 3.6M506.31 168.4l3.6 -3.6M511.64 169.6l3.6 3.6M511.64 173.2l3.6 -3.6M516.97 161.2l3.6 3.6M516.97 164.8l3.6 -3.6M522.3 157.2l3.6 3.6M522.3 160.8l3.6 -3.6M527.64 165.2l3.6 3.6M527.64 168.8l3.6 -3.6M532.97 153.2l3.6 3.6M532.97 156.8l3.6 -3.6M538.3 155.6l3.6 3.6M538.3 159.2l3.6 -3.6M543.63 152.6l3.6 3.6M543.63 156.2l3.6 -3.6M548.96 151.6l3.6 3.6M548.96 155.2l3.6 -3.6M554.3 151.6l3.6 3.6M554.3 155.2l3.6 -3.6M559.63 148.2l3.6 3.6M559.63 151.8l3.6 -3.6M564.96 142.6l3.6 3.6M564.96 146.2l3.6 -3.6M570.29 147.6l3.6 3.6M570.29 151.2l3.6 -3.6M575.62 145.2l3.6 3.6M575.62 148.8l3.6 -3.6M580.96 148.8l3.6 3.6M580.96 152.4l3.6 -3.6M586.29 141.6l3.6 3.6M586.29 145.2l3.6 -3.6M591.62 133.2l3.6 3.6M591.62 136.8l3.6 -3.6M596.95 140.8l3.6 3.6M596.95 144.4l3.6 -3.6M602.28 137.2l3.6 3.6M602.28 140.8l3.6 -3.6M607.62 135.8l3.6 3.6M607.62 139.4l3.6 -3.6M612.95 134.8l3.6 3.6M612.95 138.4l3.6 -3.6M618.28 133.8l3.6 3.6M618.28 137.4l3.6 -3.6M623.61 131.2l3.6 3.6M623.61 134.8l3.6 -3.6M628.94 157.6l3.6 3.6M628.94 161.2l3.6 -3.6M634.28 134.2l3.6 3.6M634.28 137.8l3.6 -3.6M639.61 132.8l3.6 3.6M639.61 136.4l3.6 -3.6M644.94 123.9l3.6 3.6M644.94 127.5l3.6 -3.6M650.27 128.5l3.6 3.6M650.27 132.1l3.6 -3.6M655.6 124.4l3.6 3.6M655.6 128l3.6 -3.6M660.94 124.4l3.6 3.6M660.94 128l3.6 -3.6M666.27 123.9l3.6 3.6M666.27 127.5l3.6 -3.6M671.6 122.9l3.6 3.6M671.6 126.5l3.6 -3.6" fill="none" stroke="#ff0000" stroke-width="0.85"/>
<polyline points="406.8,132.9 412.13,133.4 417.46,131.4 422.8,130.1 428.13,131.9 433.46,133.9 438.79,130.3 444.12,131.4 449.46,130.3 454.79,132.9 460.12,133.4 465.45,132.4 470.78,133 476.12,129.4 481.45,131 486.78,130 492.11,130.6 497.44,129.4 502.78,129.4 508.11,131.6 513.44,132 518.77,133 524.1,131 529.44,130.6 534.77,129 540.1,132 545.43,130.6 550.76,127 556.1,133 561.43,130 566.76,130.6 572.09,133 577.42,127 582.76,126 588.09,128 593.42,132 598.75,132 604.08,130.6 609.42,130 614.75,131 620.08,131.4 625.41,129.3 630.74,130.3 636.08,130.3 641.41,130.3 646.74,129.8 652.07,131.4 657.4,129.3 662.74,129.8 668.07,131.4 673.4,132.4" fill="none" stroke="#0000ff" stroke-width="0.8" stroke-linejoin="round"/>
<path d="M404.8 130.9h4v4h-4zM410.13 131.4h4v4h-4zM415.46 129.4h4v4h-4zM420.8 128.1h4v4h-4zM426.13 129.9h4v4h-4zM431.46 131.9h4v4h-4zM436.79 128.3h4v4h-4zM442.12 129.4h4v4h-4zM447.46 128.3h4v4h-4zM452.79 130.9h4v4h-4zM458.12 131.4h4v4h-4zM463.45 130.4h4v4h-4zM468.78 131h4v4h-4zM474.12 127.4h4v4h-4zM479.45 129h4v4h-4zM484.78 128h4v4h-4zM490.11 128.6h4v4h-4zM495.44 127.4h4v4h-4zM500.78 127.4h4v4h-4zM506.11 129.6h4v4h-4zM511.44 130h4v4h-4zM516.77 131h4v4h-4zM522.1 129h4v4h-4zM527.44 128.6h4v4h-4zM532.77 127h4v4h-4zM538.1 130h4v4h-4zM543.43 128.6h4v4h-4zM548.76 125h4v4h-4zM554.1 131h4v4h-4zM559.43 128h4v4h-4zM564.76 128.6h4v4h-4zM570.09 131h4v4h-4zM575.42 125h4v4h-4zM580.76 124h4v4h-4zM586.09 126h4v4h-4zM591.42 130h4v4h-4zM596.75 130h4v4h-4zM602.08 128.6h4v4h-4zM607.42 128h4v4h-4zM612.75 129h4v4h-4zM618.08 129.4h4v4h-4zM623.41 127.3h4v4h-4zM628.74 128.3h4v4h-4zM634.08 128.3h4v4h-4zM639.41 128.3h4v4h-4zM644.74 127.8h4v4h-4zM650.07 129.4h4v4h-4zM655.4 127.3h4v4h-4zM660.74 127.8h4v4h-4zM666.07 129.4h4v4h-4zM671.4 130.4h4v4h-4z" fill="none" stroke="#1a1aff" stroke-width="0.7"/>
<rect x="234.5" y="279.6" width="266.3" height="88" fill="none" stroke="#5a5a5a" stroke-width="1"/>
<path d="M234.5 367.6v-2.6M234.5 279.6v2.6M278.88 367.6v-2.6M278.88 279.6v2.6M323.27 367.6v-2.6M323.27 279.6v2.6M367.65 367.6v-2.6M367.65 279.6v2.6M412.03 367.6v-2.6M412.03 279.6v2.6M456.42 367.6v-2.6M456.42 279.6v2.6M500.8 367.6v-2.6M500.8 279.6v2.6" stroke="#5a5a5a" stroke-width="1" fill="none"/>
<text font-size="7.3" text-anchor="middle" font-weight="bold" fill="#262626" font-family='"Liberation Sans", sans-serif' transform="translate(234.5 378.3) scale(1 0.95)">0</text>
<text font-size="7.3" text-anchor="middle" font-weight="bold" fill="#262626" font-family='"Liberation Sans", sans-serif' transform="translate(278.88 378.3) scale(1 0.95)">50</text>
<text font-size="7.3" text-anchor="middle" font-weight="bold" fill="#262626" font-family='"Liberation Sans", sans-serif' transform="translate(323.27 378.3) scale(1 0.95)">100</text>
<text font-size="7.3" text-anchor="middle" font-weight="bold" fill="#262626" font-family='"Liberation Sans", sans-serif' transform="translate(367.65 378.3) scale(1 0.95)">150</text>
<text font-size="7.3" text-anchor="middle" font-weight="bold" fill="#262626" font-family='"Liberation Sans", sans-serif' transform="translate(412.03 378.3) scale(1 0.95)">200</text>
<text font-size="7.3" text-anchor="middle" font-weight="bold" fill="#262626" font-family='"Liberation Sans", sans-serif' transform="translate(456.42 378.3) scale(1 0.95)">250</text>
<text font-size="7.3" text-anchor="middle" font-weight="bold" fill="#262626" font-family='"Liberation Sans", sans-serif' transform="translate(500.8 378.3) scale(1 0.95)">300</text>
<path d="M234.5 367.6h2.6M500.8 367.6h-2.6M234.5 345.6h2.6M500.8 345.6h-2.6M234.5 323.6h2.6M500.8 323.6h-2.6M234.5 301.6h2.6M500.8 301.6h-2.6M234.5 279.6h2.6M500.8 279.6h-2.6" stroke="#5a5a5a" stroke-width="1" fill="none"/>
<text font-size="7.3" text-anchor="end" font-weight="bold" fill="#262626" font-family='"Liberation Sans", sans-serif' transform="translate(232.1 370.9) scale(1 0.95)">0</text>
<text font-size="7.3" text-anchor="end" font-weight="bold" fill="#262626" font-family='"Liberation Sans", sans-serif' transform="translate(232.1 348.9) scale(1 0.95)">2</text>
<text font-size="7.3" text-anchor="end" font-weight="bold" fill="#262626" font-family='"Liberation Sans", sans-serif' transform="translate(232.1 326.9) scale(1 0.95)">4</text>
<text font-size="7.3" text-anchor="end" font-weight="bold" fill="#262626" font-family='"Liberation Sans", sans-serif' transform="translate(232.1 304.9) scale(1 0.95)">6</text>
<text font-size="7.3" text-anchor="end" font-weight="bold" fill="#262626" font-family='"Liberation Sans", sans-serif' transform="translate(232.1 282.9) scale(1 0.95)">8</text>
<text font-size="8.1" text-anchor="middle" font-weight="bold" fill="#262626" font-family='"Liberation Sans", sans-serif' transform="translate(208.5 322.8) rotate(-90) scale(1 0.95)">Carrier Phase (rad)</text>
<text font-size="8.0" text-anchor="start" font-weight="bold" fill="#262626" font-family='"Liberation Sans", sans-serif' transform="translate(234.9 278.6) scale(1 0.95)">×</text>
<text font-size="7.0" text-anchor="start" font-weight="bold" fill="#262626" font-family='"Liberation Sans", sans-serif' transform="translate(241.2 278.2) scale(1 0.95)">10</text>
<text font-size="5.2" text-anchor="start" font-weight="bold" fill="#262626" font-family='"Liberation Sans", sans-serif' transform="translate(249 274.5) scale(1 0.95)">5</text>
<polyline points="234.5,367.4 500.8,294.6" fill="none" stroke="#808080" stroke-width="4.0" stroke-linejoin="round"/>
<polyline points="234.5,367.4 500.8,294.6" fill="none" stroke="#0000ff" stroke-width="2.8" stroke-linejoin="round"/>
<rect x="429" y="334" width="65.4" height="28.4" fill="#fff" stroke="#333" stroke-width="0.9"/>
<path d="M431 339.6H455.6" stroke="#808080" stroke-width="4.2"/>
<path d="M431 348H455.6" stroke="#ff0000" stroke-width="0.9"/>
<path d="M431 357.4H455.6" stroke="#0000ff" stroke-width="0.9"/>
<rect x="442.3" y="347" width="2" height="2" fill="#ff0000"/>
<rect x="442.3" y="356.4" width="2" height="2" fill="#0000ff"/>
<text font-size="6.7" text-anchor="start" font-weight="bold" fill="#000" font-family='"Liberation Sans", sans-serif' transform="translate(457.6 341.9) scale(1 0.95)">SF-NoRFI</text>
<text font-size="6.7" text-anchor="start" font-weight="bold" fill="#000" font-family='"Liberation Sans", sans-serif' transform="translate(457.6 350.3) scale(1 0.95)">SF-RFI</text>
<text font-size="6.7" text-anchor="start" font-weight="bold" fill="#000" font-family='"Liberation Sans", sans-serif' transform="translate(457.6 359.7) scale(1 0.95)">SF-RFI, PB</text>
<rect x="234.5" y="401.6" width="266.5" height="88.5" fill="none" stroke="#5a5a5a" stroke-width="1"/>
<path d="M234.5 490.1v-2.6M234.5 401.6v2.6M261.15 490.1v-2.6M261.15 401.6v2.6M287.8 490.1v-2.6M287.8 401.6v2.6M314.45 490.1v-2.6M314.45 401.6v2.6M341.1 490.1v-2.6M341.1 401.6v2.6M367.75 490.1v-2.6M367.75 401.6v2.6M394.4 490.1v-2.6M394.4 401.6v2.6M421.05 490.1v-2.6M421.05 401.6v2.6M447.7 490.1v-2.6M447.7 401.6v2.6M474.35 490.1v-2.6M474.35 401.6v2.6M501 490.1v-2.6M501 401.6v2.6" stroke="#5a5a5a" stroke-width="1" fill="none"/>
<text font-size="7.3" text-anchor="middle" font-weight="bold" fill="#262626" font-family='"Liberation Sans", sans-serif' transform="translate(234.5 500.9) scale(1 0.95)">178.3</text>
<text font-size="7.3" text-anchor="middle" font-weight="bold" fill="#262626" font-family='"Liberation Sans", sans-serif' transform="translate(287.8 500.9) scale(1 0.95)">178.31</text>
<text font-size="7.3" text-anchor="middle" font-weight="bold" fill="#262626" font-family='"Liberation Sans", sans-serif' transform="translate(341.1 500.9) scale(1 0.95)">178.32</text>
<text font-size="7.3" text-anchor="middle" font-weight="bold" fill="#262626" font-family='"Liberation Sans", sans-serif' transform="translate(394.4 500.9) scale(1 0.95)">178.33</text>
<text font-size="7.3" text-anchor="middle" font-weight="bold" fill="#262626" font-family='"Liberation Sans", sans-serif' transform="translate(447.7 500.9) scale(1 0.95)">178.34</text>
<text font-size="7.3" text-anchor="middle" font-weight="bold" fill="#262626" font-family='"Liberation Sans", sans-serif' transform="translate(501 500.9) scale(1 0.95)">178.35</text>
<path d="M234.5 490.1h2.6M501 490.1h-2.6M234.5 453.85h2.6M501 453.85h-2.6M234.5 417.6h2.6M501 417.6h-2.6" stroke="#5a5a5a" stroke-width="1" fill="none"/>
<text font-size="7.3" text-anchor="end" font-weight="bold" fill="#262626" font-family='"Liberation Sans", sans-serif' transform="translate(232.1 493.4) scale(1 0.95)">3.9145</text>
<text font-size="7.3" text-anchor="end" font-weight="bold" fill="#262626" font-family='"Liberation Sans", sans-serif' transform="translate(232.1 457.15) scale(1 0.95)">3.915</text>
<text font-size="7.3" text-anchor="end" font-weight="bold" fill="#262626" font-family='"Liberation Sans", sans-serif' transform="translate(232.1 420.9) scale(1 0.95)">3.9155</text>
<text font-size="8.1" text-anchor="middle" font-weight="bold" fill="#262626" font-family='"Liberation Sans", sans-serif' transform="translate(205.8 445.5) rotate(-90) scale(1 0.95)">Carrier Phase (rad)</text>
<text font-size="8" text-anchor="middle" font-weight="bold" fill="#262626" font-family='"Liberation Sans", sans-serif' transform="translate(367.7 399.4) scale(1 1.1)">(zoomed view)</text>
<text font-size="8" text-anchor="middle" font-weight="bold" fill="#262626" font-family='"Liberation Sans", sans-serif' transform="translate(367.7 510.8) scale(1 1.12)">Time (s)</text>
<text font-size="16.2" text-anchor="middle" font-weight="normal" fill="#000" font-family='"Liberation Serif", serif' transform="translate(361.5 533.6)">(c)</text>
<text font-size="8.0" text-anchor="start" font-weight="bold" fill="#262626" font-family='"Liberation Sans", sans-serif' transform="translate(234.9 400.7) scale(1 0.95)">×</text>
<text font-size="7.0" text-anchor="start" font-weight="bold" fill="#262626" font-family='"Liberation Sans", sans-serif' transform="translate(241.2 400.3) scale(1 0.95)">10</text>
<text font-size="5.2" text-anchor="start" font-weight="bold" fill="#262626" font-family='"Liberation Sans", sans-serif' transform="translate(249 396.6) scale(1 0.95)">5</text>
<polyline points="234.5,482.6 239.83,480.98 245.16,479.36 250.49,477.74 255.82,476.12 261.15,474.5 266.48,472.88 271.81,471.26 277.14,469.64 282.47,468.02 287.8,466.4 293.13,464.78 298.46,463.16 303.79,461.54 309.12,459.92 314.45,458.3 319.78,456.68 325.11,455.06 330.44,453.44 335.77,451.82 341.1,450.2 346.43,448.58 351.76,446.96 357.09,445.34 362.42,443.72 367.75,442.1 373.08,440.48 378.41,438.86 383.74,437.24 389.07,435.62 394.4,434 399.73,432.38 405.06,430.76 410.39,429.14 415.72,427.52 421.05,425.9 426.38,424.28 431.71,422.66 437.04,421.04 442.37,419.42 447.7,417.8 453.03,416.18 458.36,414.56 463.69,412.94 469.02,411.32 474.35,409.7 479.68,408.08 485.01,406.46 490.34,404.84 495.67,403.22 501,401.6" fill="none" stroke="#808080" stroke-width="4.0" stroke-linejoin="round"/>
<polyline points="234.5,482.6 239.83,480.98 245.16,479.36 250.49,477.74 255.82,476.12 261.15,474.5 266.48,472.88 271.81,471.26 277.14,469.64 282.47,468.02 287.8,466.4 293.13,464.78 298.46,463.16 303.79,461.54 309.12,459.92 314.45,458.3 319.78,456.68 325.11,455.06 330.44,453.44 335.77,451.82 341.1,450.2 346.43,448.58 351.76,446.96 357.09,445.34 362.42,443.72 367.75,442.1 373.08,440.48 378.41,438.86 383.74,437.24 389.07,435.62 394.4,434 399.73,432.38 405.06,430.76 410.39,429.14 415.72,427.52 421.05,425.9 426.38,424.28 431.71,422.66 437.04,421.04 442.37,419.42 447.7,417.8 453.03,416.18 458.36,414.56 463.69,412.94 469.02,411.32 474.35,409.7 479.68,408.08 485.01,406.46 490.34,404.84 495.67,403.22 501,401.6" fill="none" stroke="#0000ff" stroke-width="1.0" stroke-linejoin="round"/>
<path d="M232.7 480.8h3.6v3.6h-3.6zM238.03 479.18h3.6v3.6h-3.6zM243.36 477.56h3.6v3.6h-3.6zM248.69 475.94h3.6v3.6h-3.6zM254.02 474.32h3.6v3.6h-3.6zM259.35 472.7h3.6v3.6h-3.6zM264.68 471.08h3.6v3.6h-3.6zM270.01 469.46h3.6v3.6h-3.6zM275.34 467.84h3.6v3.6h-3.6zM280.67 466.22h3.6v3.6h-3.6zM286 464.6h3.6v3.6h-3.6zM291.33 462.98h3.6v3.6h-3.6zM296.66 461.36h3.6v3.6h-3.6zM301.99 459.74h3.6v3.6h-3.6zM307.32 458.12h3.6v3.6h-3.6zM312.65 456.5h3.6v3.6h-3.6zM317.98 454.88h3.6v3.6h-3.6zM323.31 453.26h3.6v3.6h-3.6zM328.64 451.64h3.6v3.6h-3.6zM333.97 450.02h3.6v3.6h-3.6zM339.3 448.4h3.6v3.6h-3.6zM344.63 446.78h3.6v3.6h-3.6zM349.96 445.16h3.6v3.6h-3.6zM355.29 443.54h3.6v3.6h-3.6zM360.62 441.92h3.6v3.6h-3.6zM365.95 440.3h3.6v3.6h-3.6zM371.28 438.68h3.6v3.6h-3.6zM376.61 437.06h3.6v3.6h-3.6zM381.94 435.44h3.6v3.6h-3.6zM387.27 433.82h3.6v3.6h-3.6zM392.6 432.2h3.6v3.6h-3.6zM397.93 430.58h3.6v3.6h-3.6zM403.26 428.96h3.6v3.6h-3.6zM408.59 427.34h3.6v3.6h-3.6zM413.92 425.72h3.6v3.6h-3.6zM419.25 424.1h3.6v3.6h-3.6zM424.58 422.48h3.6v3.6h-3.6zM429.91 420.86h3.6v3.6h-3.6zM435.24 419.24h3.6v3.6h-3.6zM440.57 417.62h3.6v3.6h-3.6zM445.9 416h3.6v3.6h-3.6zM451.23 414.38h3.6v3.6h-3.6zM456.56 412.76h3.6v3.6h-3.6zM461.89 411.14h3.6v3.6h-3.6zM467.22 409.52h3.6v3.6h-3.6zM472.55 407.9h3.6v3.6h-3.6zM477.88 406.28h3.6v3.6h-3.6zM483.21 404.66h3.6v3.6h-3.6zM488.54 403.04h3.6v3.6h-3.6zM493.87 401.42h3.6v3.6h-3.6zM499.2 399.8h3.6v3.6h-3.6z" fill="none" stroke="#0000ff" stroke-width="0.9"/>
<path d="M233.3 481.4l2.4 2.4M233.3 483.8l2.4 -2.4M238.63 479.78l2.4 2.4M238.63 482.18l2.4 -2.4M243.96 478.16l2.4 2.4M243.96 480.56l2.4 -2.4M249.29 476.54l2.4 2.4M249.29 478.94l2.4 -2.4M254.62 474.92l2.4 2.4M254.62 477.32l2.4 -2.4M259.95 473.3l2.4 2.4M259.95 475.7l2.4 -2.4M265.28 471.68l2.4 2.4M265.28 474.08l2.4 -2.4M270.61 470.06l2.4 2.4M270.61 472.46l2.4 -2.4M275.94 468.44l2.4 2.4M275.94 470.84l2.4 -2.4M281.27 466.82l2.4 2.4M281.27 469.22l2.4 -2.4M286.6 465.2l2.4 2.4M286.6 467.6l2.4 -2.4M291.93 463.58l2.4 2.4M291.93 465.98l2.4 -2.4M297.26 461.96l2.4 2.4M297.26 464.36l2.4 -2.4M302.59 460.34l2.4 2.4M302.59 462.74l2.4 -2.4M307.92 458.72l2.4 2.4M307.92 461.12l2.4 -2.4M313.25 457.1l2.4 2.4M313.25 459.5l2.4 -2.4M318.58 455.48l2.4 2.4M318.58 457.88l2.4 -2.4M323.91 453.86l2.4 2.4M323.91 456.26l2.4 -2.4M329.24 452.24l2.4 2.4M329.24 454.64l2.4 -2.4M334.57 450.62l2.4 2.4M334.57 453.02l2.4 -2.4M339.9 449l2.4 2.4M339.9 451.4l2.4 -2.4M345.23 447.38l2.4 2.4M345.23 449.78l2.4 -2.4M350.56 445.76l2.4 2.4M350.56 448.16l2.4 -2.4M355.89 444.14l2.4 2.4M355.89 446.54l2.4 -2.4M361.22 442.52l2.4 2.4M361.22 444.92l2.4 -2.4M366.55 440.9l2.4 2.4M366.55 443.3l2.4 -2.4M371.88 439.28l2.4 2.4M371.88 441.68l2.4 -2.4M377.21 437.66l2.4 2.4M377.21 440.06l2.4 -2.4M382.54 436.04l2.4 2.4M382.54 438.44l2.4 -2.4M387.87 434.42l2.4 2.4M387.87 436.82l2.4 -2.4M393.2 432.8l2.4 2.4M393.2 435.2l2.4 -2.4M398.53 431.18l2.4 2.4M398.53 433.58l2.4 -2.4M403.86 429.56l2.4 2.4M403.86 431.96l2.4 -2.4M409.19 427.94l2.4 2.4M409.19 430.34l2.4 -2.4M414.52 426.32l2.4 2.4M414.52 428.72l2.4 -2.4M419.85 424.7l2.4 2.4M419.85 427.1l2.4 -2.4M425.18 423.08l2.4 2.4M425.18 425.48l2.4 -2.4M430.51 421.46l2.4 2.4M430.51 423.86l2.4 -2.4M435.84 419.84l2.4 2.4M435.84 422.24l2.4 -2.4M441.17 418.22l2.4 2.4M441.17 420.62l2.4 -2.4M446.5 416.6l2.4 2.4M446.5 419l2.4 -2.4M451.83 414.98l2.4 2.4M451.83 417.38l2.4 -2.4M457.16 413.36l2.4 2.4M457.16 415.76l2.4 -2.4M462.49 411.74l2.4 2.4M462.49 414.14l2.4 -2.4M467.82 410.12l2.4 2.4M467.82 412.52l2.4 -2.4M473.15 408.5l2.4 2.4M473.15 410.9l2.4 -2.4M478.48 406.88l2.4 2.4M478.48 409.28l2.4 -2.4M483.81 405.26l2.4 2.4M483.81 407.66l2.4 -2.4M489.14 403.64l2.4 2.4M489.14 406.04l2.4 -2.4M494.47 402.02l2.4 2.4M494.47 404.42l2.4 -2.4M499.8 400.4l2.4 2.4M499.8 402.8l2.4 -2.4" fill="none" stroke="#ff0000" stroke-width="0.8"/>
</g>
</svg>
</body></html>
